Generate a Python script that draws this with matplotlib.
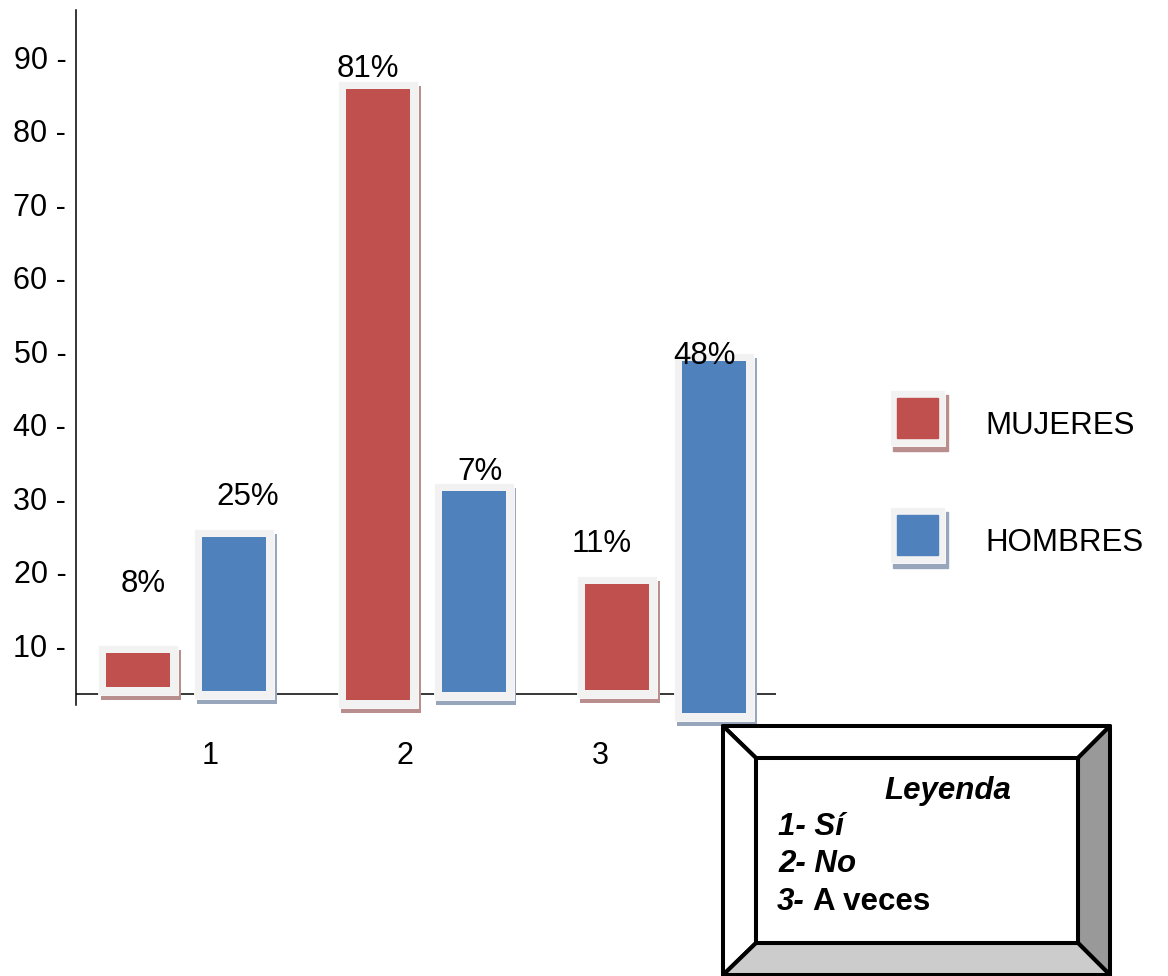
import matplotlib.pyplot as plt
from matplotlib.patches import Polygon, Rectangle
import numpy as np

plt.rcParams['font.family'] = ['Liberation Sans', 'DejaVu Sans']

# survey answers per group
grupos = ['1', '2', '3']
series = ['MUJERES', 'HOMBRES']
mujeres_top = [8.9, 85.7, 18.3]
mujeres_base = [4.3, 2.5, 3.9]
hombres_top = [24.7, 31.0, 48.6]
hombres_base = [3.8, 3.6, 0.75]
mujeres_pct = ['8%', '81%', '11%']
hombres_pct = ['25%', '7%', '48%']
yticks = [10, 20, 30, 40, 50, 60, 70, 80, 90]
leyenda = ['1- Sí', '2- No']

ROJO, AZUL = '#c0504d', '#4f81bd'
SOMBRA_ROJO, SOMBRA_AZUL = '#b98e8e', '#97a6ba'
MARCO = '#f2f2f2'
FS = 22.5

fig = plt.figure(figsize=(11.68, 9.76), dpi=100)
ax = fig.add_axes([76 / 1168, 1 - 705 / 976, 700 / 1168, 695 / 976])
ax.set_xlim(0, 7)
ax.set_ylim(1.84, 96.4)

px_x = 7 / 700
px_y = (96.4 - 1.84) / 695
ancho = 0.64
idx = np.arange(len(grupos))
centros = 1.095 + 2.4 * idx


def barra_marco(x, base, top, color, sombra):
    base = np.asarray(base)
    top = np.asarray(top)
    fx, fy = 8 * px_x, 8 * px_y
    sx, sy = 3 * px_x, 5 * px_y
    alto = top - base + 2 * fy
    ax.bar(x + sx, alto, width=ancho + 2 * fx, bottom=base - fy - sy,
           color=sombra, clip_on=False, zorder=2)
    ax.bar(x, alto, width=ancho + 2 * fx, bottom=base - fy,
           color=MARCO, edgecolor='white', linewidth=0.6, clip_on=False, zorder=3)
    ax.bar(x, top - base, width=ancho, bottom=base,
           color=color, clip_on=False, zorder=4)


xm = centros - 0.48
xh = centros + 0.48
barra_marco(xm, mujeres_base, mujeres_top, ROJO, SOMBRA_ROJO)
barra_marco(xh, hombres_base, hombres_top, AZUL, SOMBRA_AZUL)

# value labels sit a little off each bar
dx_m, dy_m = [0.055, -0.095, -0.155], [8.3, 1.6, 4.35]
dx_h, dy_h = [0.145, 0.065, -0.088], [4.35, 1.4, -0.3]
for i in range(len(grupos)):
    ax.text(xm[i] + dx_m[i], mujeres_top[i] + dy_m[i], mujeres_pct[i],
            ha='center', va='baseline', fontsize=FS, zorder=6)
    ax.text(xh[i] + dx_h[i], hombres_top[i] + dy_h[i], hombres_pct[i],
            ha='center', va='baseline', fontsize=FS, zorder=6)

ax.axhline(3.33, color='black', lw=1.1, zorder=1)

for s in ['top', 'right', 'bottom']:
    ax.spines[s].set_visible(False)
ax.spines['left'].set_linewidth(1.1)
ax.set_yticks(yticks, [f'{v} -' for v in yticks])
# category numbers are spaced tighter than the bar groups
ax.set_xticks(1.34 + 1.95 * idx, grupos)
ax.tick_params(axis='y', length=0, pad=7, labelsize=22)
ax.tick_params(axis='x', length=0, pad=26, labelsize=22)
ax.patch.set_visible(False)

# legend squares and the "Leyenda" box, in pixel coordinates
ov = fig.add_axes([0, 0, 1, 1], zorder=5)
ov.set_xlim(0, 1168)
ov.set_ylim(976, 0)
ov.axis('off')

for k, (nombre, col, sh) in enumerate(zip(series, [ROJO, AZUL], [SOMBRA_ROJO, SOMBRA_AZUL])):
    y0 = 390 + 116.7 * k
    ov.add_patch(Rectangle((893, y0 + 5), 55, 56, color=sh))
    ov.add_patch(Rectangle((890, y0), 55, 56, facecolor=MARCO, edgecolor='white', lw=0.6))
    ov.add_patch(Rectangle((897, y0 + 8), 41, 40, color=col))
    ov.text(985, y0 + 44, nombre, fontsize=FS, va='baseline', ha='left')

xo0, xo1, yo0, yo1 = 723, 1110, 726, 975
xi0, xi1, yi0, yi1 = 756, 1078, 758, 943
caras = [
    ([(xo0, yo0), (xo1, yo0), (xi1, yi0), (xi0, yi0)], 'white'),
    ([(xo0, yo0), (xi0, yi0), (xi0, yi1), (xo0, yo1)], 'white'),
    ([(xo1, yo0), (xo1, yo1), (xi1, yi1), (xi1, yi0)], '#999999'),
    ([(xo0, yo1), (xo1, yo1), (xi1, yi1), (xi0, yi1)], '#cccccc'),
]
for pts, c in caras:
    ov.add_patch(Polygon(pts, closed=True, facecolor=c, edgecolor='black',
                         lw=2.9, joinstyle='round'))
ov.add_patch(Rectangle((xi0, yi0), xi1 - xi0, yi1 - yi0, facecolor='white',
                       edgecolor='black', lw=2.9, joinstyle='round'))

ov.text(884, 799, 'Leyenda', fontsize=22.5, weight='bold', style='italic', va='baseline')
for j, t in enumerate(leyenda):
    ov.text(778, 835 + 36.5 * j, t, fontsize=22.5, weight='bold', style='italic', va='baseline')
ov.text(777, 910, '3-', fontsize=22.5, weight='bold', style='italic', va='baseline')
ov.text(813, 910, 'A veces', fontsize=22.5, weight='bold', va='baseline')

fig.savefig('out.png', dpi=100)
